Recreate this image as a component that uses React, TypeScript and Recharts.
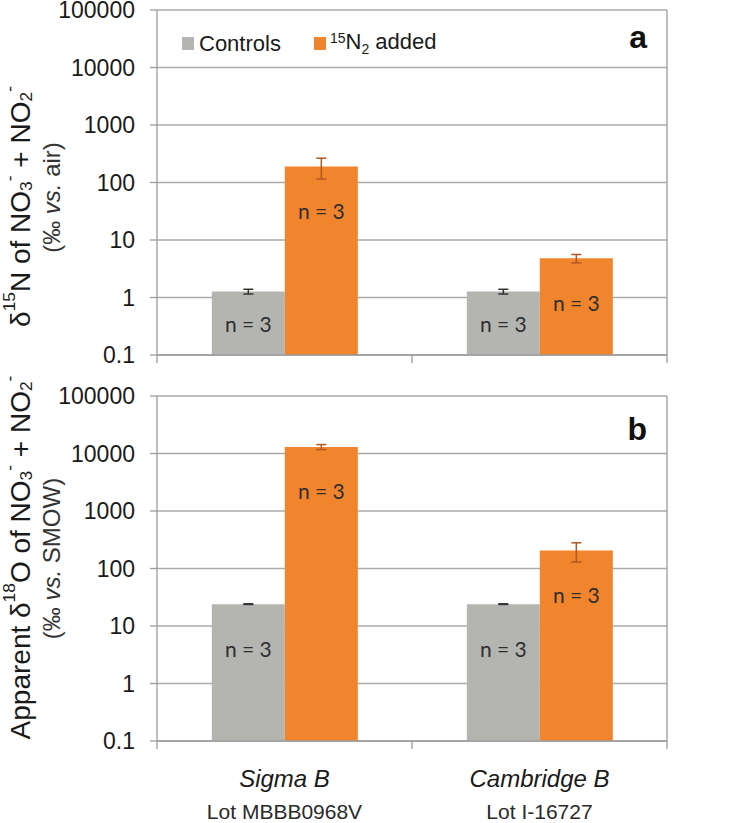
import React from 'react';
import {
  BarChart,
  Bar,
  XAxis,
  YAxis,
  CartesianGrid,
  ErrorBar,
  LabelList,
  Legend,
  ReferenceLine,
  Label,
} from 'recharts';

const categories = ['Sigma B', 'Cambridge B'];
const lots = ['Lot MBBB0968V', 'Lot I-16727'];
const nCounts = [3, 3];
const aControls = [1.27, 1.27];
const aControlsErr = [0.12, 0.12];
const aAdded = [190, 4.8];
const aAddedErr = [75, 0.8];
const bControls = [24, 24];
const bControlsErr = [0.3, 0.3];
const bAdded = [13000, 205];
const bAddedErr = [1300, 75];
const yTicks = [0.1, 1, 10, 100, 1000, 10000, 100000];
// boundaries of the two categories (0, 0.5, 1) and their centres (0.25, 0.75)
const xTicks = [0, 0.25, 0.5, 0.75, 1];

const dataA = categories.map((c, i) => ({
  name: c,
  ctrl: aControls[i],
  ctrlErr: aControlsErr[i],
  added: aAdded[i],
  addedErr: aAddedErr[i],
  n: nCounts[i],
}));
const dataB = categories.map((c, i) => ({
  name: c,
  ctrl: bControls[i],
  ctrlErr: bControlsErr[i],
  added: bAdded[i],
  addedErr: bAddedErr[i],
  n: nCounts[i],
}));

const FONT = '"Liberation Sans", Arial, Helvetica, sans-serif';
const GRAY = '#b4b5b1';
const ORANGE = '#f1852d';
const GRID = '#ababab';
const AXIS = '#9c9c9c';

type Seg = [string, 'n' | 'sup' | 'sub' | 'i'];

const renderSegs = (segs: Seg[], fs: number) => {
  let cur = 0;
  return segs.map(([t, k], i) => {
    const target = k === 'sup' ? -0.4 * fs : k === 'sub' ? 0.22 * fs : 0;
    const dy = target - cur;
    cur = target;
    return (
      <tspan
        key={i}
        dy={dy}
        fontSize={k === 'sup' || k === 'sub' ? fs * 0.62 : fs}
        fontStyle={k === 'i' ? 'italic' : 'normal'}
      >
        {t}
      </tspan>
    );
  });
};

const labelA1: Seg[] = [
  ['δ', 'n'], ['15', 'sup'], ['N of NO', 'n'], ['3', 'sub'], ['-', 'sup'],
  [' + NO', 'n'], ['2', 'sub'], ['-', 'sup'],
];
const labelA2: Seg[] = [['(‰ ', 'n'], ['vs.', 'i'], [' air)', 'n']];
const labelB1: Seg[] = [
  ['Apparent δ', 'n'], ['18', 'sup'], ['O of NO', 'n'], ['3', 'sub'], ['-', 'sup'],
  [' + NO', 'n'], ['2', 'sub'], ['-', 'sup'],
];
const labelB2: Seg[] = [['(‰ ', 'n'], ['vs.', 'i'], [' SMOW)', 'n']];

const NLabel = (props: any) => {
  const { x, y, width, height, value } = props;
  const cx = x + width / 2;
  const cy = Math.min(y + 44, y + height / 2);
  return (
    <text
      x={cx}
      y={cy}
      textAnchor="middle"
      dominantBaseline="central"
      fontFamily='Lato, "Open Sans", sans-serif'
      fontSize={21}
      fill="#2e2e2e"
    >
      {`n = ${value}`}
    </text>
  );
};

const LegendContent = () => (
  <div
    style={{
      display: 'flex',
      alignItems: 'center',
      fontFamily: FONT,
      fontSize: 22,
      lineHeight: '22px',
      color: '#1a1a1a',
      whiteSpace: 'nowrap',
    }}
  >
    <span style={{ display: 'inline-block', width: 12, height: 13, background: GRAY, marginRight: 5 }} />
    <span>Controls</span>
    <span style={{ display: 'inline-block', width: 12, height: 13, background: ORANGE, marginLeft: 33, marginRight: 4 }} />
    <span>
      <span style={{ fontSize: 14, verticalAlign: 6 }}>15</span>N
      <span style={{ fontSize: 14, verticalAlign: -5 }}>2</span> added
    </span>
  </div>
);

type PanelProps = {
  data: any[];
  height: number;
  top: number;
  xHeight: number;
  showCats: boolean;
  letter: string;
  letterDy: number;
  line1: Seg[];
  line2: Seg[];
  off1: number;
  off2: number;
  legend: boolean;
};

const Panel = (p: PanelProps) => {
  const XTick = (props: any) => {
    const { x, y, payload } = props;
    const v = payload.value;
    const k = Math.round(v * 4);
    if (k % 2 === 0) {
      return <line x1={x} x2={x} y1={y} y2={y + 8} stroke={AXIS} strokeWidth={1.3} />;
    }
    if (!p.showCats) return <g />;
    const idx = Math.floor(k / 2);
    return (
      <g>
        <text x={x} y={y + 46} textAnchor="middle" fontFamily={FONT} fontSize={24} fontStyle="italic" fill="#1a1a1a">
          {categories[idx]}
        </text>
        <text x={x} y={y + 78} textAnchor="middle" fontFamily={FONT} fontSize={21} fill="#2a2a2a">
          {lots[idx]}
        </text>
      </g>
    );
  };

  const YLab = (props: any) => {
    const vb = props.viewBox || { x: 0, y: p.top, width: 157, height: 345 };
    const cy = vb.y + vb.height / 2;
    const x1 = vb.x + 20;
    const x2 = vb.x + 51;
    const y1 = cy + p.off1;
    const y2 = cy + p.off2;
    return (
      <g>
        <text
          x={x1}
          y={y1}
          transform={`rotate(-90, ${x1}, ${y1})`}
          textAnchor="middle"
          dominantBaseline="central"
          fontFamily={FONT}
          fill="#1a1a1a"
          style={{ whiteSpace: 'pre' }}
        >
          {renderSegs(p.line1, 28)}
        </text>
        <text
          x={x2}
          y={y2}
          transform={`rotate(-90, ${x2}, ${y2})`}
          textAnchor="middle"
          dominantBaseline="central"
          fontFamily={FONT}
          fill="#333"
          style={{ whiteSpace: 'pre' }}
        >
          {renderSegs(p.line2, 24)}
        </text>
      </g>
    );
  };

  const LetterLab = (props: any) => {
    const vb = props.viewBox || { x: 667, y: p.top };
    return (
      <text x={vb.x - 20} y={vb.y + p.letterDy} textAnchor="end" fontFamily={FONT} fontWeight="bold" fontSize={32} fill="#111">
        {p.letter}
      </text>
    );
  };

  return (
    <BarChart
      width={751}
      height={p.height}
      data={p.data}
      margin={{ top: p.top, right: 84, bottom: 0, left: 0 }}
      barCategoryGap="21.5%"
      barGap={0}
    >
      <CartesianGrid vertical={false} stroke={GRID} strokeWidth={1.3} />
      <XAxis dataKey="name" hide height={0} />
      <XAxis
        xAxisId="num"
        type="number"
        domain={[0, 1]}
        allowDataOverflow
        ticks={xTicks}
        interval={0}
        tickSize={0}
        tickMargin={0}
        tickLine={false}
        axisLine={{ stroke: AXIS, strokeWidth: 1.3 }}
        tick={<XTick />}
        height={p.xHeight}
      />
      <YAxis
        scale="log"
        domain={[0.1, 100000]}
        allowDataOverflow
        ticks={yTicks}
        interval={0}
        width={157}
        tickSize={7}
        tickMargin={15}
        axisLine={{ stroke: AXIS, strokeWidth: 1.3 }}
        tickLine={{ stroke: AXIS, strokeWidth: 1.3 }}
        tick={{ fontFamily: FONT, fontSize: 23, fill: '#1a1a1a' }}
      >
        <Label content={<YLab />} />
      </YAxis>
      <ReferenceLine x={1} xAxisId="num" stroke={AXIS} strokeWidth={1.3} label={<LetterLab />} />
      {p.legend && (
        <Legend
          layout="horizontal"
          verticalAlign="middle"
          align="center"
          content={<LegendContent />}
          wrapperStyle={{ position: 'absolute', left: 182, top: 27, width: 'auto' }}
        />
      )}
      <Bar dataKey="ctrl" name="Controls" fill={GRAY} isAnimationActive={false}>
        <ErrorBar dataKey="ctrlErr" width={5} stroke="#333" strokeWidth={1.5} />
        <LabelList dataKey="n" content={<NLabel />} />
      </Bar>
      <Bar dataKey="added" name="15N2 added" fill={ORANGE} isAnimationActive={false}>
        <ErrorBar dataKey="addedErr" width={5} stroke="#b3561f" strokeWidth={1.5} />
        <LabelList dataKey="n" content={<NLabel />} />
      </Bar>
    </BarChart>
  );
};

export default function App() {
  return (
    <div style={{ position: 'absolute', left: 0, top: 0, width: 751, height: 823, background: '#fff' }}>
      <div style={{ position: 'absolute', left: 0, top: 0 }}>
        <Panel
          data={dataA}
          height={370}
          top={10}
          xHeight={15}
          showCats={false}
          letter="a"
          letterDy={38}
          line1={labelA1}
          line2={labelA2}
          off1={24}
          off2={15}
          legend
        />
      </div>
      <div style={{ position: 'absolute', left: 0, top: 365 }}>
        <Panel
          data={dataB}
          height={458}
          top={31}
          xHeight={82}
          showCats
          letter="b"
          letterDy={44}
          line1={labelB1}
          line2={labelB2}
          off1={-11}
          off2={-10}
          legend={false}
        />
      </div>
    </div>
  );
}
